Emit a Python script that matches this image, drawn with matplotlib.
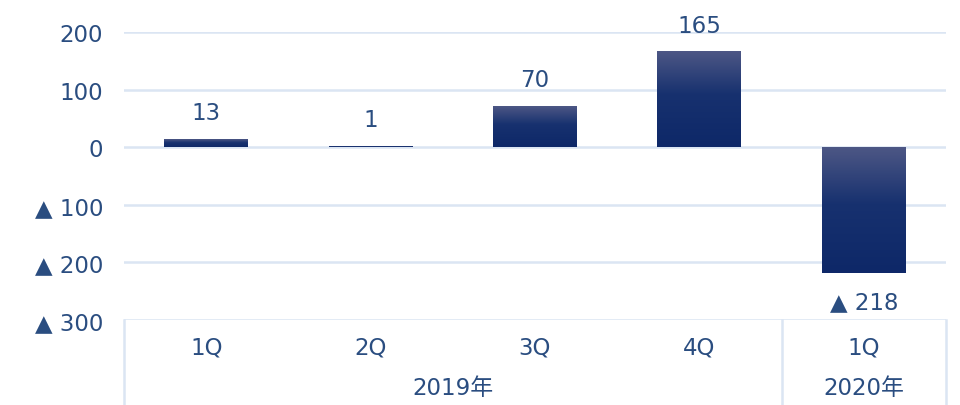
import matplotlib
matplotlib.use("Agg")
import matplotlib.pyplot as plt
import numpy as np
from matplotlib.colors import LinearSegmentedColormap

plt.rcParams['font.family'] = ['DejaVu Sans', 'Noto Sans CJK JP']

quarters = ["1Q", "2Q", "3Q", "4Q", "1Q"]
values = [13, 1, 70, 165, -218]
years = ["2019年", "2020年"]
year_groups = [(0, 3), (4, 4)]
yticks = [200, 100, 0, -100, -200, -300]

text_color = "#2a4d80"
grid_color = "#dbe5f3"
FS = 16.5


def fmt(v):
    return f"▲ {abs(v)}" if v < 0 else f"{v}"


W, H = 960, 406
fig = plt.figure(figsize=(W / 100, H / 100), dpi=100)
left, right, top_px, bot_px = 124, 946, 33, 321
ax = fig.add_axes([left / W, 1 - bot_px / H, (right - left) / W, (bot_px - top_px) / H])

cmap = LinearSegmentedColormap.from_list(
    "g", [(0, "#4d5785"), (0.45, "#17316f"), (1, "#0e2868")])
grad = np.linspace(0, 1, 256).reshape(-1, 1)

x = np.arange(len(values))
bw = 0.51
for xi, v in zip(x, values):
    lo, hi = min(0, v), max(0, v)
    ax.imshow(grad, cmap=cmap, aspect='auto', origin='upper',
              extent=(xi - bw / 2, xi + bw / 2, lo, hi), zorder=3,
              interpolation='bilinear')
    off = 19.5 if v >= 0 else -21
    ax.annotate(fmt(v), (xi, v), xytext=(0, off), textcoords='offset points',
                ha='center', va='center', fontsize=FS, color=text_color)

ax.set_xlim(-0.5, len(values) - 0.5)
ax.set_ylim(-300, 200)
ax.set_yticks(yticks)
ax.set_yticklabels([fmt(t) for t in yticks], fontsize=FS, color=text_color)
ax.tick_params(axis='y', length=0, pad=15)
ax.set_xticks([])
for s in ax.spines.values():
    s.set_visible(False)
for t in yticks:
    ax.axhline(t, color=grid_color, lw=1.8, zorder=1)

# category box
tr = ax.get_xaxis_transform()
span = bot_px - top_px
ybot = -(H - bot_px) / span
for xv in [-0.5, 3.5, 4.5]:
    ax.plot([xv, xv], [0, ybot], transform=tr, color=grid_color, lw=1.8, clip_on=False)
for xi, q in zip(x, quarters):
    ax.text(xi, -(348 - bot_px) / span, q, transform=tr, ha='center',
            va='center', fontsize=FS, color=text_color)
for yr, (a, b) in zip(years, year_groups):
    ax.text((a + b) / 2, -(389 - bot_px) / span, yr, transform=tr,
            ha='center', va='center', fontsize=FS, color=text_color)

fig.savefig("out.png", dpi=100)
